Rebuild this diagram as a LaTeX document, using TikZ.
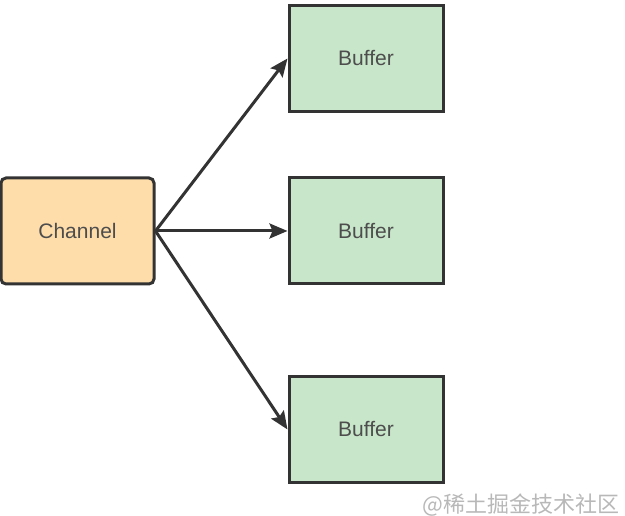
\documentclass[tikz,border=0pt]{standalone}
\usepackage{fontspec}
\setmainfont{Liberation Sans}
\newfontfamily\cjkfont{Noto Sans CJK SC}
\usepackage{tikz}
\usetikzlibrary{arrows.meta}
\definecolor{chanfill}{RGB}{254,221,170}
\definecolor{buffill}{RGB}{200,230,201}
\definecolor{boxline}{RGB}{51,51,51}
\definecolor{boxtext}{RGB}{77,77,77}
\tikzset{
  chanbox/.style={draw=boxline, line width=3pt, fill=chanfill, rounded corners=5pt,
    minimum width=153pt, minimum height=106pt, inner sep=0pt,
    text=boxtext, font=\fontsize{21}{24}\selectfont},
  bufbox/.style={draw=boxline, line width=3pt, fill=buffill,
    minimum width=154pt, minimum height=106pt, inner sep=0pt,
    text=boxtext, font=\fontsize{21}{24}\selectfont},
}
\begin{document}
\begin{tikzpicture}[x=1pt,y=1pt]
    \useasboundingbox (0,0) rectangle (625,516);

    % Left box
    \node[chanbox] (chan) at (77.5,285) {Channel};

    % Right boxes
    \node[bufbox] (buftop) at (366,457.5) {Buffer};
    \node[bufbox] (bufmid) at (366,285) {Buffer};
    \node[bufbox] (bufbot) at (366,86.5) {Buffer};

    \node[text=black!28, font=\cjkfont\fontsize{22}{26}\selectfont, anchor=east] (mark) at (623,11) {@稀土掘金技术社区};

    \path[every edge/.style={draw=boxline, line width=3pt, -{Stealth[length=18pt,width=15pt,inset=3pt]}}]
	(chan.east) edge (buftop.west)
	(chan.east) edge (bufmid.west)
	(chan.east) edge (bufbot.west);
\end{tikzpicture}
\end{document}
